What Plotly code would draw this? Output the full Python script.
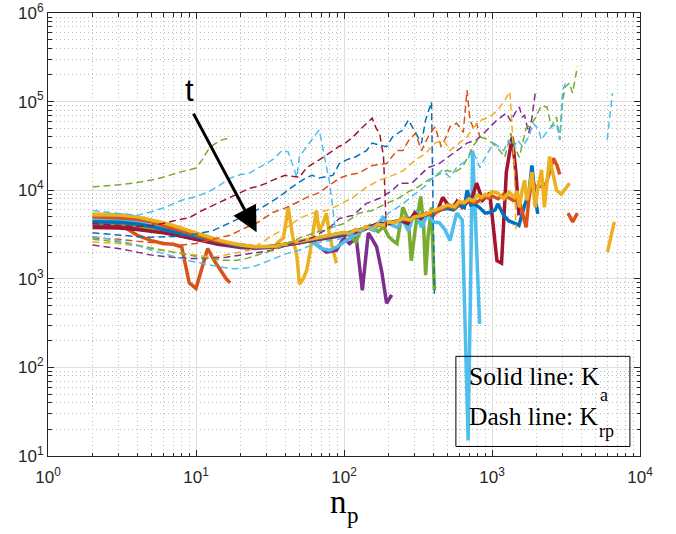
import math
import plotly.graph_objects as go

# ---- K_a (solid) curves, one per t value: particle count n_p and K ----
ka_t2_n = [2, 3, 4, 5, 6, 7, 8, 9, 10, 11, 12, 13, 14, 15, 16, 17]
ka_t2 = [4900, 4200, 3100, 2700, 2500, 2450, 2300, 900, 780, 1350, 2200, 1700, 1400, 1200, 1000, 900]

ka_t3_n = [2, 3, 4, 5, 6, 7, 8, 9, 10, 12, 14, 16, 18, 20, 23, 26, 30, 33, 36, 39, 42, 45, 48, 50,
           53, 56, 59, 62, 65, 68, 72, 76, 80, 85, 89]
ka_t3 = [5400, 5300, 5000, 4600, 4200, 3900, 3600, 3350, 3150, 2850, 2650, 2500, 2400, 2350, 2300,
         2250, 2300, 2200, 2600, 2900, 6400, 3000, 1800, 870, 1000, 1250, 2000, 3500, 5900, 3500,
         4200, 5500, 3000, 2000, 1500]

ka_t4_n = [2, 3, 4, 5, 6, 7, 8, 10, 12, 14, 17, 20, 25, 30, 35, 40, 45, 50, 55, 60, 68, 76, 89,
           100, 109, 121, 133, 140, 146, 155, 166, 180, 194, 210]
ka_t4 = [4100, 4000, 3800, 3600, 3400, 3200, 3050, 2800, 2600, 2450, 2350, 2250, 2200, 2250, 2300,
         2400, 2450, 2550, 2650, 2700, 2300, 2000, 2100, 2900, 2500, 2900, 740, 1800, 3300, 2800,
         2300, 1200, 530, 660]

ka_t5_n = [2, 3, 4, 5, 6, 7, 8, 10, 12, 14, 17, 20, 25, 30, 35, 40, 50, 60, 70, 80, 90, 100, 110,
           120, 130, 140, 150, 170, 185, 200, 214, 228, 250, 272, 285, 304, 330, 345, 356, 370,
           390, 408]
ka_t5 = [4300, 4200, 4000, 3750, 3500, 3300, 3150, 2900, 2700, 2550, 2400, 2300, 2250, 2280, 2350,
         2450, 2600, 2750, 2900, 3000, 3100, 3200, 3100, 2600, 3500, 3650, 4000, 3400, 3900, 3000,
         2700, 2500, 6400, 4600, 1600, 3800, 8500, 4000, 1100, 3000, 6400, 740]

ka_t6_n = [2, 3, 4, 5, 6, 7, 8, 10, 12, 14, 17, 20, 25, 30, 35, 40, 45, 50, 55, 60, 70, 80, 90,
           100, 120, 142, 160, 183, 200, 228, 250, 272, 304, 334, 370, 400, 440, 480, 520, 577,
           630, 690, 740, 825]
ka_t6 = [4700, 4600, 4350, 4050, 3750, 3500, 3300, 3000, 2750, 2600, 2450, 2350, 2250, 2250, 2300,
         2400, 2500, 2600, 2700, 2700, 2200, 2100, 2300, 2600, 3200, 3800, 3500, 4900, 4200, 3800,
         4600, 3500, 5900, 3800, 5500, 4400, 4300, 3600, 2700, 5500, 4600, 15, 28000, 310]

ka_t7_n = [2, 3, 4, 5, 6, 7, 8, 10, 12, 14, 17, 20, 25, 30, 35, 40, 50, 60, 70, 80, 90, 100, 130,
           170, 200, 240, 270, 300, 330, 360, 400, 430, 465, 500, 545, 580, 630, 680, 734, 788,
           863, 965, 1080, 1160, 1250, 1370, 1450, 1520]
ka_t7 = [3800, 3750, 3600, 3450, 3300, 3150, 3000, 2800, 2650, 2500, 2400, 2300, 2250, 2250, 2300,
         2400, 2550, 2700, 2850, 2950, 3050, 3100, 3500, 4200, 4200, 4600, 4200, 5500, 4800, 5500,
         5200, 6000, 8300, 7000, 6400, 7500, 6400, 7200, 8300, 12000, 7700, 9300, 1600, 1500,
         16000, 40000, 16000, 5200]

ka_t8_n = [2, 3, 4, 5, 6, 7, 8, 10, 12, 14, 17, 20, 25, 30, 35, 40, 50, 60, 70, 80, 90, 100, 120,
           140, 170, 200, 250, 300, 350, 400, 450, 500, 550, 600, 650, 680, 720, 760, 820, 900,
           960, 1050, 1095, 1200, 1300, 1440, 1520, 1650, 1780, 1860, 1960, 2040]
ka_t8 = [4400, 4350, 4150, 3900, 3600, 3400, 3200, 2950, 2750, 2600, 2450, 2350, 2280, 2280, 2350,
         2450, 2600, 2750, 2900, 3000, 3100, 3200, 3500, 3750, 4000, 4300, 4600, 4900, 5200, 5600,
         6000, 6200, 6000, 6800, 6400, 10000, 6800, 7000, 6400, 5500, 5600, 6000, 7000, 5200,
         4500, 4200, 4000, 6500, 9500, 19000, 8000, 5400]

ka_t9_n = [2, 3, 4, 5, 6, 7, 8, 10, 12, 14, 17, 20, 25, 30, 35, 40, 50, 60, 70, 80, 90, 100, 110,
           120, 130, 140, 155, 170, 185, 200, 220, 250, 280, 300, 340, 400, 450, 500, 560, 600,
           650, 700, 750, 800, 850, 900, 950, 1000, 1100, 1200, 1300, 1400, 1530, 1600, 1700,
           1770, 1860, 1960, 2160, 2330, 2500, 2600, 2750, 2870, None, 3260, 3510, 3780]
ka_t9 = [5000, 4900, 4700, 4400, 4000, 3700, 3450, 3100, 2850, 2650, 2500, 2400, 2300, 2300, 2350,
         2450, 2650, 2800, 2950, 3100, 3200, 3300, 3250, 3600, 3500, 3850, 3750, 4100, 4000, 4400,
         4300, 4800, 4600, 5000, 5300, 5400, 6000, 6600, 6300, 7000, 7300, 7600, 7200, 7400,
         8000, 8400, 8100, 8600, 8000, 9000, 8200, 7600, 7700, 5500, 3800, 7700, 13000, 11000,
         11000, 12000, 18000, 23000, 19000, 15000, None, 5500, 4400, 5500]

ka_t10_n = [2, 3, 4, 5, 6, 7, 8, 10, 12, 14, 17, 20, 25, 30, 35, 40, 50, 60, 70, 80, 90, 100,
            110, 120, 130, 140, 155, 170, 185, 200, 220, 250, 280, 300, 340, 400, 450, 500, 560,
            600, 650, 700, 750, 800, 850, 900, 950, 1000, 1095, 1200, 1300, 1420, 1480, 1530,
            1600, 1660, 1720, 1800, 1860, 1960, 2050, 2160, 2260, 2350, 2450, 2530, 2730, 2940,
            3200, 3340, None, 6030, 6700]
ka_t10 = [5300, 5250, 5000, 4650, 4300, 4000, 3700, 3300, 3000, 2750, 2550, 2400, 2300, 2300,
          2350, 2450, 2650, 2800, 2950, 3100, 3200, 3350, 3250, 3600, 3500, 3850, 3700, 4150,
          4000, 4400, 4300, 4800, 4600, 5000, 5200, 5800, 6200, 6800, 6500, 7500, 7200, 8000,
          7600, 8800, 8300, 9000, 8700, 9600, 9300, 8000, 9500, 8300, 9800, 6400, 10000, 13000,
          7700, 11000, 16000, 6400, 11000, 17000, 6400, 13000, 24000, 18000, 10000, 9000, 11000,
          12000, None, 2000, 4400]

# ---- K_rp (dashed) curves ----
krp_t2_n = [2, 3, 4, 5, 6, 7, 8, 9, 10, 11, 12, 13, 14, 15, 16, 17]
krp_t2 = [10900, 11500, 12200, 13000, 14000, 15200, 16200, 17000, 17800, 22000, 28000, 32000,
          35000, 37000, 38000, 39000]

krp_t3_n = [2, 3, 4, 5, 6, 7, 8, 10, 12, 14, 17, 20, 23, 26, 30, 34, 38, 42, 45, 48, 50, 55, 60,
            68, 80, 88]
krp_t3 = [5900, 5500, 5200, 5700, 6300, 7000, 7700, 8500, 9500, 11000, 13700, 15000, 15600,
          17700, 20000, 23000, 28000, 27000, 19000, 14000, 24000, 30000, 36000, 48000, 12000, 3300]

krp_t4_n = [2, 3, 4, 5, 6, 7, 9, 11, 14, 17, 20, 23, 26, 30, 33, 40, 50, 56, 68, 84, 92, 100,
            115, 133, 145, 155, 165, 174, 185, 193]
krp_t4 = [4200, 4000, 3900, 4000, 4200, 4500, 4900, 5900, 7100, 8300, 9500, 10500, 11000, 12000,
          13000, 14700, 14000, 18000, 22000, 28000, 31000, 33000, 40000, 51000, 58000, 65000,
          50000, 44000, 24000, 3800]

krp_t5_n = [2, 3, 4, 5, 7, 10, 13, 17, 20, 23, 28, 36, 45, 56, 61, 68, 84, 93, 104, 121, 142,
            155, 194, 213, 250, 272, 304, 334, 356, 390, 408]
krp_t5 = [3300, 3100, 3000, 2950, 3000, 3200, 3500, 4300, 4900, 5400, 6400, 8300, 11000, 14000,
          14700, 13700, 14700, 20000, 22000, 24000, 28000, 34000, 31000, 40000, 48000, 62000,
          44000, 34000, 62000, 99000, 680]

krp_t6_n = [2, 3, 4, 5, 6, 8, 10, 13, 17, 21, 26, 33, 41, 50, 56, 68, 84, 93, 110, 126, 155,
            194, 228, 250, 272, 304, 334, 370, 412, 454, 490, 520, 577, 640, 678, 710, 750, 790,
            825]
krp_t6 = [2900, 2800, 2650, 2550, 2500, 2400, 2500, 2800, 3100, 3700, 4300, 5600, 6400, 7500,
          8300, 9400, 12000, 13700, 15000, 15600, 19000, 20000, 28000, 28000, 36000, 44000,
          28000, 40000, 52000, 31000, 40000, 52000, 57000, 45000, 135000, 62000, 50000, 57000,
          40000]

krp_t7_n = [2, 3, 4, 5, 7, 9, 11, 13, 17, 23, 28, 33, 41, 50, 61, 76, 93, 115, 142, 174, 213,
            250, 304, 356, 412, 470, 520, 600, 678, 740, 850, 965, 1095, 1220, 1320, 1360, 1420,
            1450]
krp_t7 = [2600, 2500, 2350, 2250, 2000, 1900, 1800, 1750, 1900, 2100, 2600, 3100, 3800, 4800,
          5500, 5900, 6800, 8300, 10800, 13000, 14700, 16500, 22000, 26000, 34000, 37000, 28000,
          34000, 40000, 50000, 62000, 67000, 80000, 104000, 130000, 60000, 16000, 3600]

krp_t8_n = [2, 3, 4, 5, 7, 9, 12, 16, 22, 33, 45, 61, 80, 93, 115, 142, 174, 213, 238, 287, 330,
            370, 440, 505, 580, 678, 788, 880, 965, 1080, 1250, 1340, 1430, 1530, 1600, 1660,
            1770, 1860, 1960]
krp_t8 = [2400, 2200, 2000, 1850, 1750, 1700, 1700, 1750, 1900, 2100, 2500, 2900, 3800, 4800,
          5200, 7100, 8100, 10000, 12000, 12000, 15000, 18000, 20000, 23500, 28000, 34000, 37000,
          44000, 52000, 62000, 74000, 60000, 74000, 87000, 67000, 70000, 44000, 65000, 125000]

krp_t9_n = [2, 3, 4, 5, 7, 9, 12, 15, 19, 22, 27, 33, 42, 50, 60, 80, 100, 126, 155, 194, 230,
            270, 320, 370, 430, 490, 560, 630, 690, 750, 830, 910, 1010, 1110, 1220, 1340, 1430,
            1530, 1700, 1860, 1960, 2150, 2350, 2520, 2730, 2870, 3000, 3120, 3340, 3500, 3780]
krp_t9 = [2800, 2600, 2400, 2200, 2000, 1850, 1700, 1620, 1620, 1700, 1900, 2100, 2500, 2900,
          3200, 3700, 4200, 5500, 5900, 7100, 8000, 9500, 11000, 13000, 15000, 16700, 16000,
          18000, 24000, 32000, 40000, 38000, 34000, 29000, 23500, 44000, 30000, 23500, 50000,
          57000, 65000, 90000, 87000, 52000, 67000, 37000, 100000, 146000, 162000, 125000, 250000]

krp_t10_n = [2, 3, 4, 5, 7, 9, 12, 15, 18, 22, 26, 32, 40, 50, 60, 70, 92, 118, 155, 200, 250,
             300, 350, 400, 460, 520, 577, 678, 740, 830, 930, 1030, 1200, 1300, 1400, 1490, 1610,
             1770, 1900, 2070, 2150, 2400, 2730, 2870, 3000, 3130, None, 6000, 6520]
krp_t10 = [3000, 2700, 2400, 2100, 1800, 1600, 1450, 1350, 1300, 1320, 1420, 1650, 1900, 2100,
           2400, 2600, 2800, 3300, 3800, 5500, 7000, 9000, 11000, 14000, 16700, 14000, 18000,
           22000, 28000, 18000, 26000, 34000, 28000, 37000, 30000, 37000, 31000, 40000, 57000,
           48000, 37000, 48000, 57000, 37000, 135000, 160000, None, 37000, 125000]

# axis decades and their labels
x_decades = [1, 10, 100, 1000, 10000]
x_labels = ["10<sup>0</sup>", "10<sup>1</sup>", "10<sup>2</sup>", "10<sup>3</sup>", "10<sup>4</sup>"]
y_decades = [10, 100, 1000, 10000, 100000, 1000000]
y_labels = ["10<sup>1</sup>", "10<sup>2</sup>", "10<sup>3</sup>", "10<sup>4</sup>",
            "10<sup>5</sup>", "10<sup>6</sup>"]

# arrow showing the direction of increasing t (tail and tip as (n_p, K))
arrow_tail = (9.5, 76000)
arrow_tip = (25.7, 3350)
t_label_at = (9.06, 135000)

# MATLAB default line colours
C = {"blue": "#0072BD", "orange": "#D95319", "yellow": "#EDB120", "purple": "#7E2F8E",
     "green": "#77AC30", "lightblue": "#4DBEEE", "darkred": "#A2142F"}

solid = [
    (ka_t2_n, ka_t2, C["orange"]),
    (ka_t3_n, ka_t3, C["yellow"]),
    (ka_t4_n, ka_t4, C["purple"]),
    (ka_t5_n, ka_t5, C["green"]),
    (ka_t6_n, ka_t6, C["lightblue"]),
    (ka_t7_n, ka_t7, C["darkred"]),
    (ka_t8_n, ka_t8, C["blue"]),
    (ka_t9_n, ka_t9, C["orange"]),
    (ka_t10_n, ka_t10, C["yellow"]),
]
dashed = [
    (krp_t2_n, krp_t2, C["green"]),
    (krp_t3_n, krp_t3, C["lightblue"]),
    (krp_t4_n, krp_t4, C["darkred"]),
    (krp_t5_n, krp_t5, C["blue"]),
    (krp_t6_n, krp_t6, C["orange"]),
    (krp_t7_n, krp_t7, C["yellow"]),
    (krp_t8_n, krp_t8, C["purple"]),
    (krp_t9_n, krp_t9, C["green"]),
    (krp_t10_n, krp_t10, C["lightblue"]),
]

fig = go.Figure()
for xs, ys, col in solid:
    fig.add_trace(go.Scatter(x=xs, y=ys, mode="lines", showlegend=False,
                             line=dict(color=col, width=3.5)))
for xs, ys, col in dashed:
    fig.add_trace(go.Scatter(x=xs, y=ys, mode="lines", showlegend=False,
                             line=dict(color=col, width=1.5, dash="7px,4px")))

AX = "#262626"
TICKFONT = dict(family="Liberation Sans, Arial, sans-serif", size=17, color=AX)


def minor_vals(d0, d1):
    return [k * 10 ** d for d in range(d0, d1) for k in range(2, 10)]


common = dict(type="log", showline=True, linecolor=AX, linewidth=1, mirror="allticks",
              ticks="inside", ticklen=6, tickcolor=AX, tickfont=TICKFONT, automargin=False,
              showgrid=True, gridcolor="#dedede", gridwidth=1, zeroline=False)

fig.update_xaxes(range=[0, 4], tickmode="array", tickvals=x_decades, ticktext=x_labels,
                 ticklabelstandoff=6,
                 minor=dict(tickmode="array", tickvals=minor_vals(0, 4), ticks="inside",
                            ticklen=3.5, tickcolor=AX, showgrid=True, gridcolor="#bdbdbd",
                            griddash="1px,3px", gridwidth=1),
                 **common)
fig.update_yaxes(range=[1, 6], tickmode="array", tickvals=y_decades, ticktext=y_labels,
                 minor=dict(tickmode="array", tickvals=minor_vals(1, 6), ticks="inside",
                            ticklen=3.5, tickcolor=AX, showgrid=True, gridcolor="#bdbdbd",
                            griddash="1px,3px", gridwidth=1),
                 **common)

serif = "Liberation Serif, Times New Roman, serif"


def note(text, x, y, size, family=serif, anchor="left"):
    return dict(x=x, y=y, xref="paper", yref="paper", text=text, showarrow=False,
                xanchor=anchor, yanchor="middle", font=dict(family=family, size=size, color="black"))


annotations = [
    dict(x=math.log10(arrow_tip[0]), y=math.log10(arrow_tip[1]), xref="x", yref="y",
         ax=math.log10(arrow_tail[0]), ay=math.log10(arrow_tail[1]), axref="x", ayref="y",
         text="", showarrow=True, arrowhead=2, arrowsize=1.7, arrowwidth=3, arrowcolor="black"),
    dict(x=math.log10(t_label_at[0]), y=math.log10(t_label_at[1]), xref="x", yref="y",
         text="t", showarrow=False, xanchor="center", yanchor="middle",
         font=dict(family="Liberation Sans, Arial, sans-serif", size=31, color="black")),
    # legend text box: main text with lowered subscripts
    note("Solid line: K", 0.707, 0.179, 25.5),
    note("a", 0.929, 0.138, 18),
    note("Dash line: K", 0.707, 0.089, 25.5),
    note("rp", 0.927, 0.057, 18),
    # x axis title n_p
    note("n", 0.4905, -0.104, 33, anchor="center"),
    note("p", 0.515, -0.134, 23, anchor="center"),
]

fig.update_layout(
    width=676, height=534,
    margin=dict(l=48, r=36, t=13, b=78),
    paper_bgcolor="white", plot_bgcolor="white",
    annotations=annotations,
    shapes=[dict(type="rect", xref="paper", yref="paper", x0=0.689, x1=0.983,
                 y0=0.0215, y1=0.225, line=dict(color="black", width=1),
                 fillcolor="rgba(255,255,255,0)")],
)

fig.write_html("out.html")
